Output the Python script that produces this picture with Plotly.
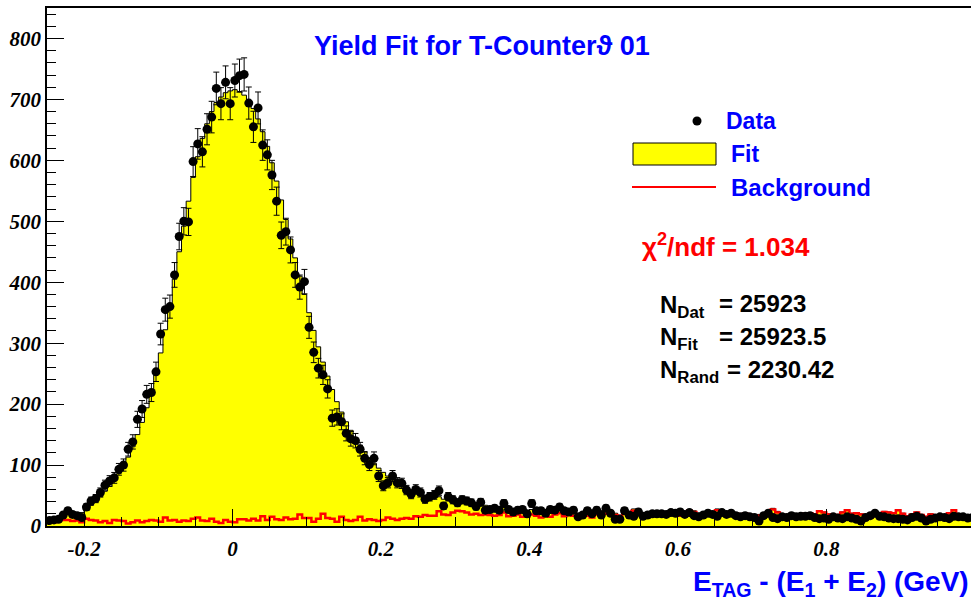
import numpy as np
import plotly.graph_objects as go

# ---------------- data ----------------
X_MIN, X_MAX, NBINS = -0.25, 1.0, 200

data_counts = [
    9, 10, 11, 18, 25, 19, 17, 14, 31, 41,
    45, 55, 67, 74, 79, 93, 100, 126, 138, 175,
    192, 216, 219, 253, 315, 355, 360, 412, 475, 500,
    499, 598, 627, 614, 651, 671, 718, 693, 728, 693,
    731, 739, 741, 694, 655, 686, 625, 609, 576, 533,
    477, 483, 453, 412, 392, 401, 326, 285, 259, 248,
    225, 177, 179, 171, 152, 143, 140, 126, 111, 101,
    111, 82, 66, 71, 82, 71, 70, 59, 52, 60,
    55, 44, 48, 51, 58, 33, 48, 43, 38, 43,
    41, 38, 32, 39, 26, 27, 29, 26, 37, 27,
    23, 26, 27, 20, 37, 25, 25, 21, 27, 26,
    31, 25, 23, 26, 15, 18, 25, 20, 26, 18,
    29, 21, 11, 11, 25, 18, 16, 23, 16, 18,
    20, 20, 20, 19, 22, 21, 23, 19, 22, 17,
    15, 18, 21, 19, 16, 22, 19, 21, 17, 15,
    17, 15, 14, 8, 17, 21, 14, 12, 15, 14,
    17, 15, 16, 16, 17, 14, 12, 13, 11, 15,
    13, 12, 15, 13, 11, 8, 14, 17, 21, 16,
    15, 13, 12, 12, 11, 10, 14, 16, 13, 8,
    11, 13, 15, 14, 12, 16, 15, 15, 13, 14,
]

fit_counts = [
    10, 11, 13, 16, 19, 20, 21, 22, 28, 34,
    41, 48, 57, 65, 75, 86, 99, 113, 130, 150,
    170, 194, 220, 250, 284, 322, 362, 405, 450, 492,
    533, 572, 606, 636, 660, 680, 695, 704, 711, 714,
    716, 713, 707, 698, 685, 668, 647, 623, 596, 566,
    535, 503, 471, 440, 410, 380, 350, 321, 294, 269,
    246, 224, 204, 187, 171, 157, 144, 133, 122, 112,
    103, 95, 88, 82, 77, 72, 67, 63, 59, 56,
    53, 50, 48, 46, 48, 44, 42, 43, 44, 42,
    39, 36, 36, 34, 34, 32, 31, 31, 34, 28,
    26, 28, 23, 23, 27, 24, 21, 24, 21, 25,
    27, 21, 23, 22, 20, 20, 21, 18, 23, 25,
    23, 25, 21, 18, 25, 22, 28, 24, 21, 23,
    18, 20, 19, 20, 26, 22, 19, 23, 27, 25,
    21, 17, 23, 20, 28, 24, 20, 19, 22, 18,
    22, 20, 17, 19, 21, 23, 29, 24, 20, 19,
    17, 20, 16, 21, 22, 19, 25, 23, 20, 16,
    19, 23, 27, 21, 22, 20, 18, 15, 21, 20,
    24, 23, 22, 27, 21, 17, 20, 23, 19, 16,
    20, 18, 15, 17, 22, 27, 19, 16, 18, 17,
]

background_counts = [
    6, 6, 8, 10, 10, 8, 9, 6, 12, 10,
    9, 6, 8, 5, 10, 9, 8, 4, 6, 9,
    6, 8, 10, 9, 7, 14, 9, 10, 7, 9,
    8, 12, 14, 9, 8, 12, 7, 5, 10, 7,
    6, 11, 11, 9, 12, 9, 16, 10, 15, 11,
    10, 14, 11, 12, 19, 13, 13, 7, 12, 20,
    13, 12, 7, 15, 10, 8, 10, 15, 9, 11,
    10, 8, 10, 14, 12, 10, 12, 13, 12, 16,
    15, 18, 17, 17, 24, 19, 18, 22, 25, 24,
    22, 19, 20, 18, 19, 18, 17, 18, 22, 16,
    17, 19, 15, 15, 19, 17, 14, 17, 15, 19,
    21, 16, 18, 17, 15, 16, 17, 14, 19, 21,
    20, 22, 18, 15, 22, 19, 25, 22, 19, 21,
    16, 18, 17, 18, 24, 20, 17, 21, 25, 23,
    19, 15, 21, 18, 26, 22, 18, 17, 20, 16,
    20, 18, 15, 17, 19, 21, 27, 22, 18, 17,
    16, 19, 15, 20, 21, 18, 24, 22, 19, 15,
    18, 22, 26, 20, 21, 19, 17, 14, 20, 19,
    23, 22, 21, 26, 20, 16, 19, 22, 18, 15,
    19, 17, 14, 16, 21, 26, 18, 15, 17, 16,
]

x_tick_vals = [-0.2, 0, 0.2, 0.4, 0.6, 0.8]
x_tick_text = ["-0.2", "0", "0.2", "0.4", "0.6", "0.8"]
y_tick_vals = [0, 100, 200, 300, 400, 500, 600, 700, 800]
y_tick_text = ["0", "100", "200", "300", "400", "500", "600", "700", "800"]

title_text = "Yield Fit for T-Counter\u03d1 01"
legend_labels = ["Data", "Fit", "Background"]
chi2_text = "\u03c7<sup>2</sup>/ndf = 1.034"
stat_labels = ["N<sub>Dat</sub>", "N<sub>Fit</sub>", "N<sub>Rand</sub>"]
stat_values = ["= 25923", "= 25923.5", "= 2230.42"]
x_title = "E<sub>TAG</sub> - (E<sub>1</sub> + E<sub>2</sub>) (GeV)"

# ---------------- geometry ----------------
W, H = 971, 601
L, R, T, B = 47, 0, 8, 75
PW, PH = W - L - R, H - T - B
X_RANGE = [-0.25, 0.995]
Y_RANGE = [0, 850]


def px(xp):
    """page pixel x -> paper fraction"""
    return (xp - L) / PW


def py(yp):
    """page pixel y -> paper fraction"""
    return (H - B - yp) / PH


edges = np.linspace(X_MIN, X_MAX, NBINS + 1)
centers = 0.5 * (edges[:-1] + edges[1:])
data_arr = np.array(data_counts, dtype=float)
err = np.sqrt(data_arr)

step_x = list(edges)
fit_y = list(fit_counts) + [fit_counts[-1]]
bg_y = list(background_counts) + [background_counts[-1]]

fig = go.Figure()
fig.add_trace(go.Scatter(
    x=step_x, y=fit_y, mode="lines", line=dict(shape="hv", color="black", width=1),
    fill="tozeroy", fillcolor="#ffff00", hoverinfo="skip", showlegend=False,
))
fig.add_trace(go.Scatter(
    x=step_x, y=bg_y, mode="lines", line=dict(shape="hv", color="#ff0000", width=2.5),
    hoverinfo="skip", showlegend=False,
))
fig.add_trace(go.Scatter(
    x=centers, y=data_arr, mode="markers",
    marker=dict(color="black", size=9),
    error_y=dict(type="data", array=err, color="black", thickness=1, width=3),
    showlegend=False,
))

tick_font = dict(family="Liberation Serif", size=21, color="black", style="italic", weight="bold")
sans_bold = "Liberation Sans"

fig.update_xaxes(
    range=X_RANGE, tickmode="array", tickvals=x_tick_vals, ticktext=x_tick_text,
    ticks="inside", ticklen=17, tickwidth=1, tickcolor="black",
    minor=dict(ticks="inside", ticklen=9, dtick=0.05, tick0=0, tickcolor="black", tickwidth=1),
    showline=True, linecolor="black", linewidth=1.5, mirror=True,
    showgrid=False, zeroline=False, tickfont=tick_font, ticklabelstandoff=3,
)
fig.update_yaxes(
    range=Y_RANGE, tickmode="array", tickvals=y_tick_vals, ticktext=y_tick_text,
    ticks="inside", ticklen=17, tickwidth=1, tickcolor="black",
    minor=dict(ticks="inside", ticklen=9, dtick=20, tick0=0, tickcolor="black", tickwidth=1),
    showline=True, linecolor="black", linewidth=1.5, mirror=False,
    showgrid=False, zeroline=False, tickfont=tick_font,
)

shapes = [
    # legend: data marker
    dict(type="circle", xref="paper", yref="paper",
         x0=px(692.5), x1=px(701.5), y0=py(125.5), y1=py(116.5),
         fillcolor="black", line=dict(color="black", width=0)),
    # legend: fit box
    dict(type="rect", xref="paper", yref="paper",
         x0=px(633), x1=px(716), y0=py(165), y1=py(143),
         fillcolor="#ffff00", line=dict(color="black", width=1)),
    # legend: background line
    dict(type="line", xref="paper", yref="paper",
         x0=px(632), x1=px(716), y0=py(187), y1=py(187),
         line=dict(color="#ff0000", width=2)),
]

annotations = [
    dict(text=title_text, x=px(482), y=py(46), xref="paper", yref="paper",
         xanchor="center", yanchor="middle", showarrow=False,
         font=dict(family=sans_bold, size=27, color="#0000ff", weight="bold")),
    dict(text=legend_labels[0], x=px(724), y=py(121), xref="paper", yref="paper",
         xanchor="left", yanchor="middle", showarrow=False,
         font=dict(family=sans_bold, size=23, color="#0000ff", weight="bold")),
    dict(text=legend_labels[1], x=px(729), y=py(154), xref="paper", yref="paper",
         xanchor="left", yanchor="middle", showarrow=False,
         font=dict(family=sans_bold, size=23, color="#0000ff", weight="bold")),
    dict(text=legend_labels[2], x=px(729), y=py(188), xref="paper", yref="paper",
         xanchor="left", yanchor="middle", showarrow=False,
         font=dict(family=sans_bold, size=24, color="#0000ff", weight="bold")),
    dict(text=chi2_text, x=px(640), y=py(245), xref="paper", yref="paper",
         xanchor="left", yanchor="middle", showarrow=False,
         font=dict(family=sans_bold, size=26, color="#ff0000", weight="bold")),
    dict(text=x_title, x=px(971), y=py(583), xref="paper", yref="paper",
         xanchor="right", yanchor="middle", showarrow=False,
         font=dict(family=sans_bold, size=28, color="#0000ff", weight="bold")),
]

stat_y = [306, 339, 372]
stat_val_x = [717, 717, 725]
for lab, val, yy, vx in zip(stat_labels, stat_values, stat_y, stat_val_x):
    annotations.append(dict(text=lab, x=px(658), y=py(yy), xref="paper", yref="paper",
                            xanchor="left", yanchor="middle", showarrow=False,
                            font=dict(family=sans_bold, size=24, color="black", weight="bold")))
    annotations.append(dict(text=val, x=px(vx), y=py(yy - 3), xref="paper", yref="paper",
                            xanchor="left", yanchor="middle", showarrow=False,
                            font=dict(family=sans_bold, size=24, color="black", weight="bold")))

fig.update_layout(
    width=W, height=H, autosize=False,
    margin=dict(l=L, r=R, t=T, b=B, pad=0),
    paper_bgcolor="white", plot_bgcolor="white",
    shapes=shapes, annotations=annotations, showlegend=False,
)

fig.write_html(
    "out.html",
    config={"displayModeBar": False},
    post_script="document.body.style.margin='0px';document.body.style.overflow='hidden';",
)
